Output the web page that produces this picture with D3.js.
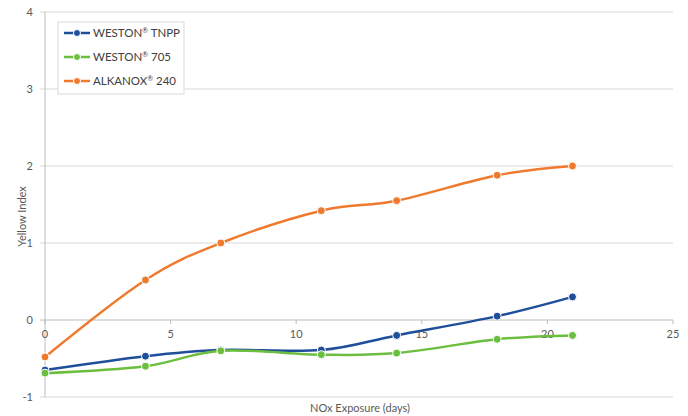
<!DOCTYPE html>
<html>
<head>
<meta charset="utf-8">
<script src="https://cdn.jsdelivr.net/npm/d3@7"></script>
<style>
  body { margin: 0; background: #fff; }
  svg { display: block; font-family: Lato, "Open Sans", sans-serif; }
</style>
</head>
<body>
<script>
// Данные графика
const days = [0, 4, 7, 11, 14, 18, 21];
const seriesNames = ["WESTON® TNPP", "WESTON® 705", "ALKANOX® 240"];
const tnpp = [-0.65, -0.47, -0.39, -0.39, -0.2, 0.05, 0.3];
const w705 = [-0.69, -0.6, -0.4, -0.45, -0.43, -0.25, -0.2];
const alkanox = [-0.48, 0.52, 1.0, 1.42, 1.55, 1.88, 2.0];
const xTicks = [0, 5, 10, 15, 20, 25];
const yTicks = [-1, 0, 1, 2, 3, 4];
const colors = ["#1f4e9a", "#6cbe3f", "#ef7a2e"];

const width = 688;
const height = 416;
const margin = { top: 12, right: 15, bottom: 19, left: 45 };

const svg = d3
  .select("body")
  .append("svg")
  .attr("width", width)
  .attr("height", height);

const x = d3.scaleLinear().domain([0, 25]).range([margin.left, width - margin.right]);
const y = d3.scaleLinear().domain([-1, 4]).range([height - margin.bottom, margin.top]);

// Горизонтальная сетка
svg
  .selectAll(".grid")
  .data(yTicks)
  .enter()
  .append("line")
  .attr("class", "grid")
  .attr("x1", margin.left - 5)
  .attr("x2", width - margin.right)
  .attr("y1", (d) => y(d))
  .attr("y2", (d) => y(d))
  .attr("stroke", (d) => (d === 0 ? "#bdbdbd" : "#d9d9d9"))
  .attr("stroke-width", 1);

// Вертикальная ось
svg
  .append("line")
  .attr("x1", margin.left)
  .attr("x2", margin.left)
  .attr("y1", y(4))
  .attr("y2", y(-1))
  .attr("stroke", "#bdbdbd");

// Подписи оси Y
svg
  .selectAll(".ylab")
  .data(yTicks)
  .enter()
  .append("text")
  .attr("x", margin.left - 12)
  .attr("y", (d) => y(d) + 4)
  .attr("text-anchor", "end")
  .style("font-size", "11px")
  .attr("fill", "#595959")
  .text((d) => d);

// Засечки и подписи оси X (ось проходит через 0)
svg
  .selectAll(".xtick")
  .data(xTicks)
  .enter()
  .append("line")
  .attr("x1", (d) => x(d))
  .attr("x2", (d) => x(d))
  .attr("y1", y(0))
  .attr("y2", y(0) + 4)
  .attr("stroke", "#bdbdbd");

svg
  .selectAll(".xlab")
  .data(xTicks)
  .enter()
  .append("text")
  .attr("x", (d) => x(d))
  .attr("y", y(0) + 18)
  .attr("text-anchor", "middle")
  .style("font-size", "11px")
  .attr("fill", "#595959")
  .text((d) => d);

// Заголовки осей
svg
  .append("text")
  .attr("x", 360)
  .attr("y", height - 4)
  .attr("text-anchor", "middle")
  .style("font-size", "11px")
  .attr("fill", "#595959")
  .text("NOx Exposure (days)");

svg
  .append("text")
  .attr("transform", "translate(26," + (y(1.5) + 12) + ") rotate(-90)")
  .attr("text-anchor", "middle")
  .style("font-size", "11px")
  .attr("fill", "#595959")
  .text("Yellow Index");

// Линии
const allSeries = [tnpp, w705, alkanox];
const line = d3
  .line()
  .x((d, i) => x(days[i]))
  .y((d) => y(d))
  .curve(d3.curveCatmullRom.alpha(0));

allSeries.forEach((vals, k) => {
  svg
    .append("path")
    .attr("d", line(vals))
    .attr("fill", "none")
    .attr("stroke", colors[k])
    .attr("stroke-width", 2.5);

  svg
    .selectAll(".pt" + k)
    .data(vals)
    .enter()
    .append("circle")
    .attr("cx", (d, i) => x(days[i]))
    .attr("cy", (d) => y(d))
    .attr("r", 4)
    .attr("fill", colors[k])
    .attr("stroke", "#fff")
    .attr("stroke-width", 1);
});

// Легенда
const legend = svg.append("g").attr("transform", "translate(58,22)");
legend
  .append("rect")
  .attr("width", 126)
  .attr("height", 72)
  .attr("fill", "#fff")
  .attr("stroke", "#d9d9d9");

seriesNames.forEach((name, k) => {
  const ly = 11 + k * 24;
  legend
    .append("line")
    .attr("x1", 6)
    .attr("x2", 32)
    .attr("y1", ly)
    .attr("y2", ly)
    .attr("stroke", colors[k])
    .attr("stroke-width", 2.5);
  legend
    .append("circle")
    .attr("cx", 19)
    .attr("cy", ly)
    .attr("r", 3.5)
    .attr("fill", colors[k])
    .attr("stroke", "#fff")
    .attr("stroke-width", 1);
  // ® как верхний индекс
  const parts = name.split("®");
  const t = legend
    .append("text")
    .attr("x", 35)
    .attr("y", ly + 4)
    .style("font-size", "11.5px")
    .attr("fill", "#404040");
  t.append("tspan").text(parts[0]);
  t.append("tspan").attr("dy", -4).style("font-size", "7px").text("®");
  t.append("tspan").attr("dy", 4).text(parts[1]);
});
</script>
</body>
</html>
